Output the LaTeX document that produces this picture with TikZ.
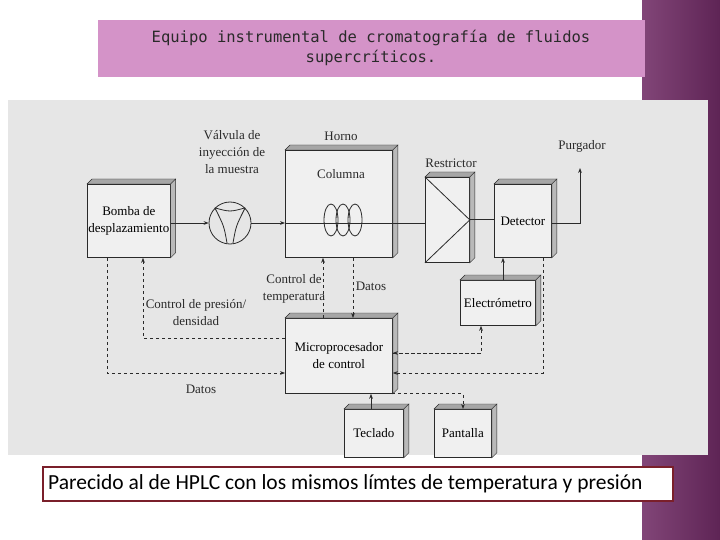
\documentclass[tikz,border=0pt]{standalone}
\usepackage{fontspec}
\setmainfont{Liberation Serif}
\newfontfamily\monof{DejaVu Sans Mono}
\newfontfamily\capf{Carlito}
\usetikzlibrary{arrows.meta,shadings}
\definecolor{pinkt}{HTML}{D493C8}
\definecolor{purp}{HTML}{5E2455}
\definecolor{scan}{HTML}{E6E6E6}
\definecolor{ink}{HTML}{2A2A2A}
\definecolor{maroon}{HTML}{7A1F2A}
\begin{document}
\begin{tikzpicture}[x=1pt,y=-1pt,
  blk/.style={draw=ink,fill=scan!60!white,thick,align=center,inner sep=1pt,font=\fontsize{13}{17}\selectfont},
  lbl/.style={align=center,font=\fontsize{13}{17}\selectfont,text=ink,inner sep=1pt},
  sol/.style={draw=ink,thick,-{Stealth[length=5pt]}},
  dsh/.style={draw=ink,thick,dashed,-{Stealth[length=5pt]}}]
\useasboundingbox (0,0) rectangle (720,540);
\fill[white] (0,0) rectangle (720,540);
\shade[left color=purp!70!pinkt,right color=purp] (642,0) rectangle (720,540);
\fill[scan] (8,100) rectangle (708,455);
\node[fill=pinkt,minimum width=547,minimum height=57,anchor=north west,inner sep=0] (title) at (98,20) {};
\node[align=center,font=\monof\fontsize{15.5}{20}\selectfont,text=ink] (tt) at (371,48) {Equipo instrumental de cromatografía de fluidos\\supercríticos.};
\node[blk,minimum width=77,minimum height=73,anchor=north west] (bomba) at (87,184) {Bomba de\\desplazamiento};
\node[blk,minimum width=107,minimum height=107,anchor=north west] (horno) at (285,150) {};
\node[lbl] (col) at (341,174) {Columna};
\node[blk,minimum width=44,minimum height=85,anchor=north west] (restr) at (425,177) {};
\node[blk,minimum width=57,minimum height=73,anchor=north west] (det) at (494,184) {Detector};
\node[blk,minimum width=75,minimum height=45,anchor=north west] (elec) at (460,280) {Electrómetro};
\node[blk,minimum width=107,minimum height=75,anchor=north west] (micro) at (285,318) {Microprocesador\\de control};
\node[blk,minimum width=59,minimum height=48,anchor=north west] (tecl) at (344,409) {Teclado};
\node[blk,minimum width=57,minimum height=48,anchor=north west] (pant) at (434,409) {Pantalla};
\foreach \n in {bomba,horno,restr,det,elec,micro,tecl,pant}{
  \fill[gray!70,draw=ink] (\n.north west) -- ++(5,-5) -- ([shift={(5,-5)}]\n.north east) -- (\n.north east) -- cycle;
  \fill[gray!55,draw=ink] (\n.north east) -- ++(5,-5) -- ([shift={(5,-5)}]\n.south east) -- (\n.south east) -- cycle;
}
\draw[ink,thick] (restr.north west) -- (restr.east) -- (restr.south west);
\node[draw=ink,thick,circle,minimum size=42,inner sep=0] (valve) at (230,223) {};
\draw[ink,thick] (valve.north west) .. controls (224,226) .. (227,243);
\draw[ink,thick] (valve.north east) .. controls (236,226) .. (233,243);
\draw[ink,thick] (valve.north west) .. controls (230,212) .. (valve.north east);
\foreach \cx in {331,343,355} \draw[ink,thick] (\cx,220) ellipse (7 and 16);
\node[lbl] (lv) at (232,152) {Válvula de\\inyección de\\la muestra};
\node[lbl] (lh) at (341,136) {Horno};
\node[lbl] (lr) at (451,163) {Restrictor};
\node[lbl] (lp) at (582,146) {Purgador};
\node[lbl] (lcp) at (196,313) {Control de presión/\\densidad};
\node[lbl] (lct) at (294,289) {Control de\\temperatura};
\node[lbl] (ld1) at (371,286) {Datos};
\node[lbl] (ld2) at (201,389) {Datos};
\coordinate (purg) at (580,168);
\draw[sol] (bomba.east |- valve) -- (valve.west);
\draw[sol] (valve.east) -- (horno.west |- valve);
\draw[ink,thick] (horno.west |- valve) -- (restr.west |- valve);
\draw[ink,thick] (restr.east) -- (det.west |- restr.east);
\draw[sol] (det.east |- valve) -| (purg);
\draw[sol] (elec.north -| 503,0) -- (det.south -| 503,0);
\draw[sol] (tecl.north -| 371,0) -- (micro.south -| 371,0);
\draw[dsh] (bomba.south -| 107,0) |- (micro.west |- 0,373);
\draw[dsh] (micro.west |- 0,338) -| (bomba.south -| 143,0);
\draw[dsh] (micro.north -| 323,0) -- (horno.south -| 323,0);
\draw[dsh] (horno.south -| 353,0) -- (micro.north -| 353,0);
\draw[dsh] (micro.east |- 0,353) -| (elec.south -| 481,0);
\draw[ink,thick,dashed,-{Stealth[length=5pt]}] (481,353) -- (micro.east |- 0,353);
\draw[dsh] (det.south -| 543,0) |- (micro.east |- 0,373);
\draw[dsh] (micro.south -| 392,393) -| (pant.north -| 463,0);
\node[draw=maroon,line width=1.5pt,fill=white,minimum width=630,minimum height=34,anchor=north west,inner sep=0] (cap) at (42,466) {};
\node[font=\capf\fontsize{21.5}{24}\selectfont,anchor=west,inner sep=0] (ct) at (48,484) {Parecido al de HPLC con los mismos límtes de temperatura y presión};
\end{tikzpicture}
\end{document}
